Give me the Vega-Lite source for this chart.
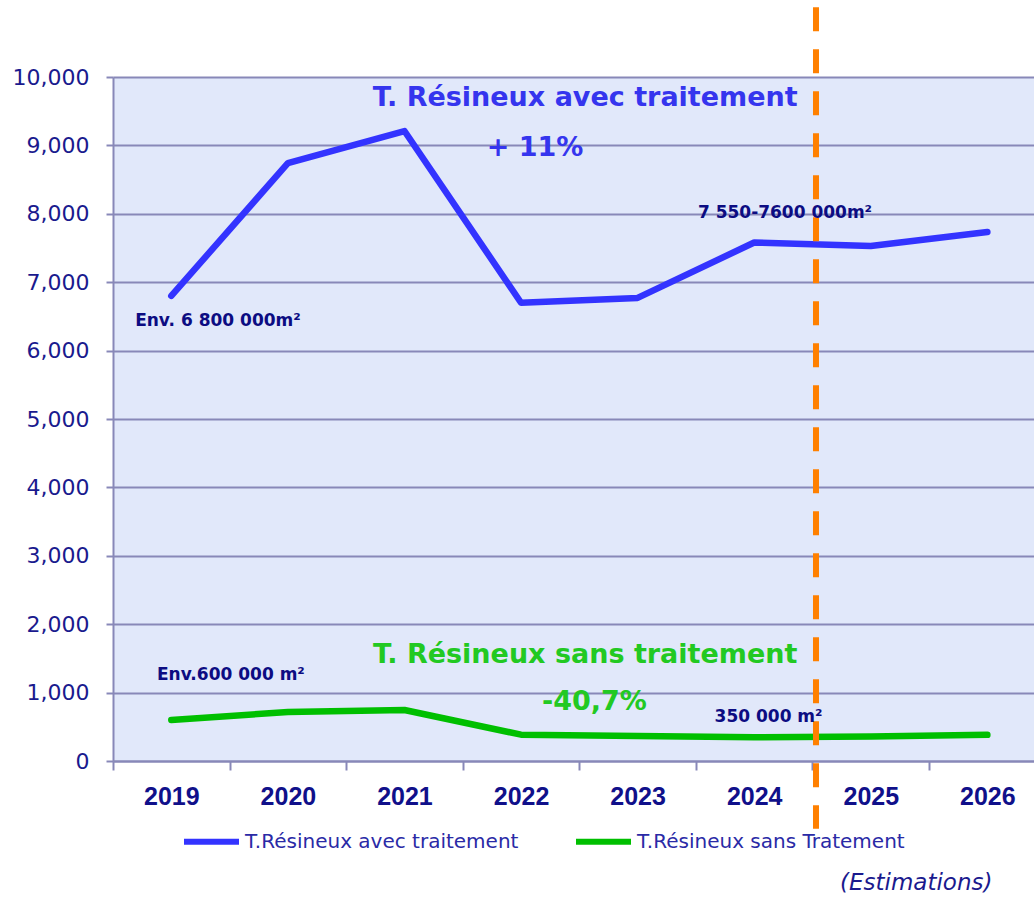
{
  "$schema": "https://vega.github.io/schema/vega-lite/v6.json",
  "width": 921,
  "height": 684,
  "autosize": {"type": "none"},
  "padding": {"left": 113, "top": 77, "right": 0, "bottom": 136},
  "background": "white",
  "config": {
    "view": {"fill": "#e1e8fa", "stroke": null},
    "font": "DejaVu Sans"
  },
  "datasets": {
    "series": [
      {"year": 2019, "value": 6800, "series": "T.Résineux avec traitement"},
      {"year": 2020, "value": 8740, "series": "T.Résineux avec traitement"},
      {"year": 2021, "value": 9210, "series": "T.Résineux avec traitement"},
      {"year": 2022, "value": 6700, "series": "T.Résineux avec traitement"},
      {"year": 2023, "value": 6770, "series": "T.Résineux avec traitement"},
      {"year": 2024, "value": 7580, "series": "T.Résineux avec traitement"},
      {"year": 2025, "value": 7530, "series": "T.Résineux avec traitement"},
      {"year": 2026, "value": 7735, "series": "T.Résineux avec traitement"},
      {"year": 2019, "value": 600, "series": "T.Résineux sans Tratement"},
      {"year": 2020, "value": 716, "series": "T.Résineux sans Tratement"},
      {"year": 2021, "value": 746, "series": "T.Résineux sans Tratement"},
      {"year": 2022, "value": 385, "series": "T.Résineux sans Tratement"},
      {"year": 2023, "value": 365, "series": "T.Résineux sans Tratement"},
      {"year": 2024, "value": 346, "series": "T.Résineux sans Tratement"},
      {"year": 2025, "value": 358, "series": "T.Résineux sans Tratement"},
      {"year": 2026, "value": 382, "series": "T.Résineux sans Tratement"}
    ],
    "divider": [
      {"year": 2024.53, "top": 11020, "bottom": -990}
    ],
    "headline_blue": [
      {"year": 2022.55, "value": 9693, "label": "T. Résineux avec traitement"},
      {"year": 2022.12, "value": 8962, "label": "+ 11%"}
    ],
    "headline_green": [
      {"year": 2022.55, "value": 1550, "label": "T. Résineux sans traitement"},
      {"year": 2022.63, "value": 863, "label": "-40,7%"}
    ],
    "notes": [
      {"year": 2023.517, "value": 8012, "label": "7 550-7600 000m²"},
      {"year": 2018.69, "value": 6433, "label": "Env. 6 800 000m²"},
      {"year": 2018.877, "value": 1257, "label": "Env.600 000 m²"},
      {"year": 2023.66, "value": 643, "label": "350 000 m²"}
    ],
    "footnote": [
      {"year": 2025.39, "value": -1784, "label": "(Estimations)"}
    ]
  },
  "layer": [
    {
      "data": {"name": "series"},
      "mark": {"type": "line", "strokeWidth": 6.5, "strokeCap": "round", "strokeJoin": "round"},
      "encoding": {
        "x": {
          "field": "year",
          "type": "quantitative",
          "scale": {"domain": [2018.5, 2026.4], "nice": false, "zero": false},
          "axis": {
            "title": null,
            "values": [2018.5, 2019.5, 2020.5, 2021.5, 2022.5, 2023.5, 2024.5, 2025.5],
            "labelExpr": "format(datum.value + 0.5, 'd')",
            "labelOffset": 58.3,
            "labelFlush": false,
            "labelOverlap": false,
            "labelBound": false,
            "grid": false,
            "tickSize": 9,
            "tickWidth": 2,
            "tickColor": "#8888b8",
            "domainColor": "#8888b8",
            "domainWidth": 2,
            "labelFont": "Liberation Sans",
            "labelFontWeight": "bold",
            "labelFontSize": 25,
            "labelColor": "#10108a",
            "labelPadding": 14
          }
        },
        "y": {
          "field": "value",
          "type": "quantitative",
          "scale": {"domain": [0, 10000], "nice": false},
          "axis": {
            "title": null,
            "values": [0, 1000, 2000, 3000, 4000, 5000, 6000, 7000, 8000, 9000, 10000],
            "format": ",.0f",
            "grid": true,
            "gridColor": "#8888b8",
            "gridWidth": 2,
            "tickSize": 7,
            "tickWidth": 2,
            "tickColor": "#8888b8",
            "domainColor": "#8888b8",
            "domainWidth": 2,
            "labelFont": "DejaVu Sans",
            "labelFontSize": 22,
            "labelColor": "#1a1a8e",
            "labelPadding": 17
          }
        },
        "color": {
          "field": "series",
          "type": "nominal",
          "scale": {
            "domain": ["T.Résineux avec traitement", "T.Résineux sans Tratement"],
            "range": ["#3333ff", "#00bf00"]
          },
          "legend": {
            "title": null,
            "orient": "none",
            "direction": "horizontal",
            "legendX": 68,
            "legendY": 734,
            "symbolType": "stroke",
            "symbolSize": 3025,
            "symbolStrokeWidth": 6,
            "labelFont": "DejaVu Sans",
            "labelFontSize": 20,
            "labelLimit": 500,
            "labelColor": "#2a2aa6",
            "labelOffset": 3,
            "columnPadding": 45
          }
        }
      }
    },
    {
      "data": {"name": "divider"},
      "mark": {"type": "rule", "color": "#ff8000", "strokeWidth": 6, "strokeDash": [24, 18]},
      "encoding": {
        "x": {"field": "year", "type": "quantitative"},
        "y": {"field": "top", "type": "quantitative"},
        "y2": {"field": "bottom"}
      }
    },
    {
      "data": {"name": "headline_blue"},
      "mark": {"type": "text", "font": "DejaVu Sans", "fontWeight": "bold", "fontSize": 27, "color": "#3535ee", "align": "center", "baseline": "middle"},
      "encoding": {
        "x": {"field": "year", "type": "quantitative"},
        "y": {"field": "value", "type": "quantitative"},
        "text": {"field": "label"}
      }
    },
    {
      "data": {"name": "headline_green"},
      "mark": {"type": "text", "font": "DejaVu Sans", "fontWeight": "bold", "fontSize": 27, "color": "#22c922", "align": "center", "baseline": "middle"},
      "encoding": {
        "x": {"field": "year", "type": "quantitative"},
        "y": {"field": "value", "type": "quantitative"},
        "text": {"field": "label"}
      }
    },
    {
      "data": {"name": "notes"},
      "mark": {"type": "text", "font": "DejaVu Sans", "fontWeight": "bold", "fontSize": 17, "color": "#0c0c82", "align": "left", "baseline": "middle"},
      "encoding": {
        "x": {"field": "year", "type": "quantitative"},
        "y": {"field": "value", "type": "quantitative"},
        "text": {"field": "label"}
      }
    },
    {
      "data": {"name": "footnote"},
      "mark": {"type": "text", "font": "DejaVu Sans", "fontStyle": "italic", "fontSize": 23, "color": "#1a1a8e", "align": "center", "baseline": "middle"},
      "encoding": {
        "x": {"field": "year", "type": "quantitative"},
        "y": {"field": "value", "type": "quantitative"},
        "text": {"field": "label"}
      }
    }
  ]
}
